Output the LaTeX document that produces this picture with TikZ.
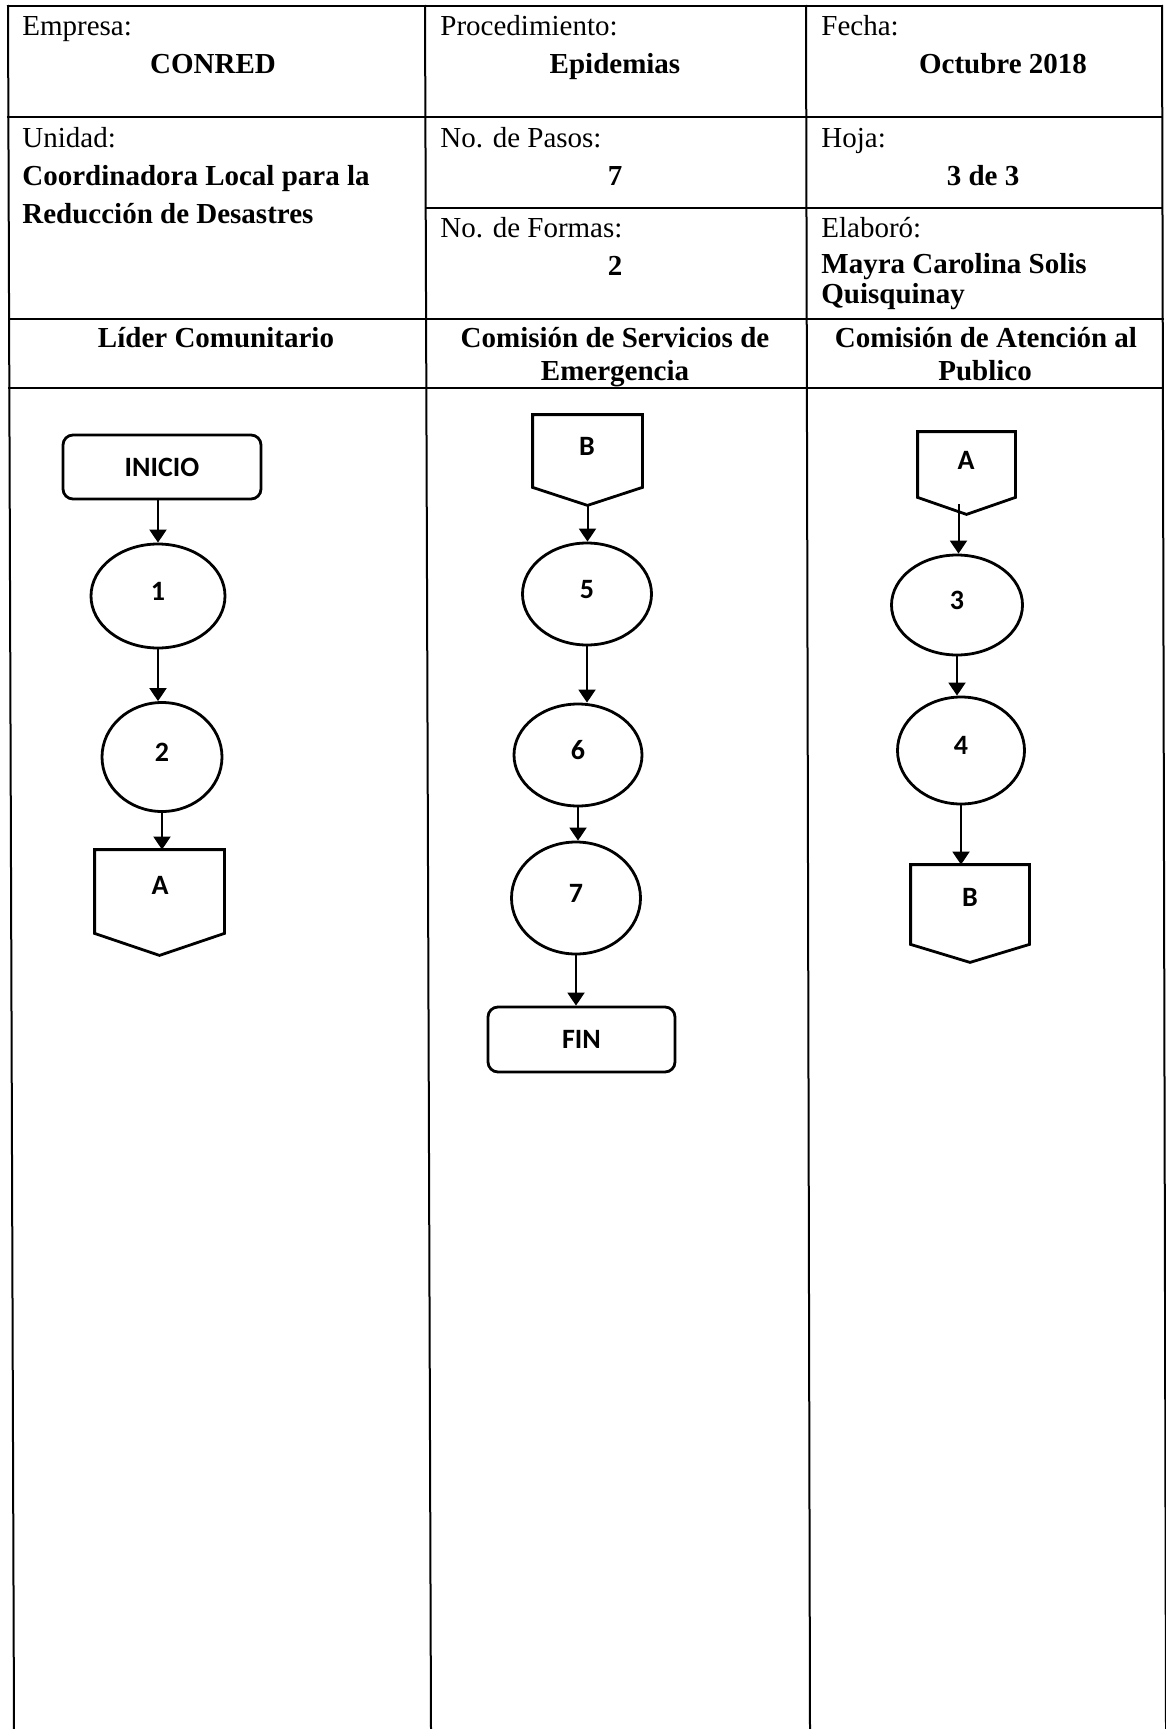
\documentclass[tikz,border=0pt]{standalone}
\usepackage{fontspec}
\setmainfont{Liberation Serif}
\newfontfamily\shapefont{Carlito}
\usetikzlibrary{shapes.geometric,arrows.meta}
\begin{document}
\begin{tikzpicture}[x=0.5pt,y=-0.5pt,
  tbl/.style={line width=1pt, line cap=rect},
  lbl/.style={inner sep=0pt, anchor=base west, font=\fontsize{14.5}{17}\selectfont},
  lblb/.style={inner sep=0pt, anchor=base west, font=\fontsize{14.5}{17}\selectfont\bfseries},
  ctr/.style={inner sep=0pt, anchor=base, font=\fontsize{14.5}{17}\selectfont\bfseries},
  shp/.style={line width=1.4pt, line join=miter},
  shapetxt/.style={inner sep=0pt, font=\shapefont\bfseries\fontsize{14}{16}\selectfont},
  ellip/.style={ellipse, draw, line width=1.4pt, inner sep=0pt, text height=9pt, text depth=5pt, font=\shapefont\bfseries\fontsize{14}{16}\selectfont},
  termbox/.style={rectangle, rounded corners=5pt, draw, line width=1.4pt, inner sep=0pt, font=\shapefont\bfseries\fontsize{14}{16}\selectfont},
  conbody/.style={rectangle, inner sep=0pt},
  arr/.style={-{Triangle[length=6.5pt,width=8.5pt]}, line width=1pt}
]
\fill[white] (0,0) rectangle (1166,1729);
\useasboundingbox (0,0) rectangle (1166,1729);

% table
\draw[tbl] (8,6) -- (14,1729);
\draw[tbl] (425,6) -- (431,1729);
\draw[tbl] (806,6) -- (810,1729);
\draw[tbl] (1162,6) -- (1166,1729);
\draw[tbl] (8,6) -- (1162,6);
\draw[tbl] (8,117) -- (1162,117);
\draw[tbl] (425.5,208) -- (1162,208);
\draw[tbl] (9,319) -- (1163,319);
\draw[tbl] (9,388) -- (1163,388);

% header texts
\node[lbl] (t1) at (22,35) {Empresa:};
\node[ctr] (t2) at (213,73) {CONRED};
\node[lbl] (t3) at (440,35) {Procedimiento:};
\node[ctr] (t4) at (615,73) {Epidemias};
\node[lbl] (t5) at (821,35) {Fecha:};
\node[ctr] (t6) at (1003,73) {Octubre 2018};
\node[lbl] (t7) at (22,147) {Unidad:};
\node[lblb] (t8) at (22,185) {Coordinadora Local para la};
\node[lblb] (t9) at (22,223) {Reducción de Desastres};
\node[lbl] (t10) at (440,147) {No. de Pasos:};
\node[ctr] (t11) at (615,185) {7};
\node[lbl] (t12) at (440,237) {No. de Formas:};
\node[ctr] (t13) at (615,275) {2};
\node[lbl] (t14) at (821,147) {Hoja:};
\node[ctr] (t15) at (983,185) {3 de 3};
\node[lbl] (t16) at (821,237) {Elaboró:};
\node[lblb] (t17) at (821,273) {Mayra Carolina Solis};
\node[lblb] (t18) at (821,303) {Quisquinay};
\node[ctr] (t19) at (216,347) {Líder Comunitario};
\node[ctr] (t20) at (615,347) {Comisión de Servicios de};
\node[ctr] (t21) at (615,380) {Emergencia};
\node[ctr] (t22) at (986,347) {Comisión de Atención al};
\node[ctr] (t23) at (985,380) {Publico};

% column 1
\node[termbox, minimum width=99pt, minimum height=32pt] (inicio) at (162,467) {INICIO};
\node[ellip, minimum width=67pt, minimum height=52pt] (e1) at (158,596) {1};
\node[ellip, minimum width=60pt, minimum height=54.5pt] (e2) at (162,757) {2};
\node[conbody, minimum width=64.5pt, minimum height=41.5pt] (ca1) at (159.5,891.5) {};
\coordinate (ca1tip) at ([yshift=-11pt]ca1.south);
\draw[shp] (ca1.north west) -- (ca1.north east) -- (ca1.south east) -- (ca1tip) -- (ca1.south west) -- cycle;
\node[shapetxt] (ca1lab) at (160,885) {A};

% column 2
\node[conbody, minimum width=54.5pt, minimum height=36pt] (cb1) at (587.5,451) {};
\coordinate (cb1tip) at ([yshift=-9pt]cb1.south);
\draw[shp] (cb1.north west) -- (cb1.north east) -- (cb1.south east) -- (cb1tip) -- (cb1.south west) -- cycle;
\node[shapetxt] (cb1lab) at (587,446) {B};
\node[ellip, minimum width=64.5pt, minimum height=51pt] (e5) at (587,594) {5};
\node[ellip, minimum width=64pt, minimum height=51pt] (e6) at (578,755) {6};
\node[ellip, minimum width=64.5pt, minimum height=56pt] (e7) at (576,898) {7};
\node[termbox, minimum width=93.5pt, minimum height=32.5pt] (fin) at (581.5,1039.5) {FIN};

% column 3
\node[conbody, minimum width=48.5pt, minimum height=32.5pt] (ca2) at (966.5,464.5) {};
\coordinate (ca2tip) at ([yshift=-8.5pt]ca2.south);
\draw[shp] (ca2.north west) -- (ca2.north east) -- (ca2.south east) -- (ca2tip) -- (ca2.south west) -- cycle;
\node[shapetxt] (ca2lab) at (966,460) {A};
\node[ellip, minimum width=65.5pt, minimum height=50pt] (e3) at (957,605) {3};
\node[ellip, minimum width=63.5pt, minimum height=53.5pt] (e4) at (961,750.5) {4};
\node[conbody, minimum width=59pt, minimum height=39.5pt] (cb2) at (970,904.5) {};
\coordinate (cb2tip) at ([yshift=-9pt]cb2.south);
\draw[shp] (cb2.north west) -- (cb2.north east) -- (cb2.south east) -- (cb2tip) -- (cb2.south west) -- cycle;
\node[shapetxt] (cb2lab) at (970,897) {B};

% connectors
\draw[arr] (e1.north |- inicio.south) -- (e1.north);
\draw[arr] (e1.south) -- (e1.south |- e2.north);
\draw[arr] (e2.south) -- (e2.south |- ca1.north);
\draw[arr] (cb1tip) -- (cb1tip |- e5.north);
\draw[arr] (e5.south) -- (e5.south |- e6.north);
\draw[arr] (e6.south) -- (e6.south |- e7.north);
\draw[arr] (e7.south) -- (e7.south |- fin.north);
\coordinate (a3start) at ([xshift=-4pt,yshift=5pt]ca2tip);
\draw[arr] (a3start) -- (a3start |- e3.north);
\draw[arr] (e3.south) -- (e3.south |- e4.north);
\draw[arr] (e4.south) -- (e4.south |- cb2.north);
\end{tikzpicture}
\end{document}
